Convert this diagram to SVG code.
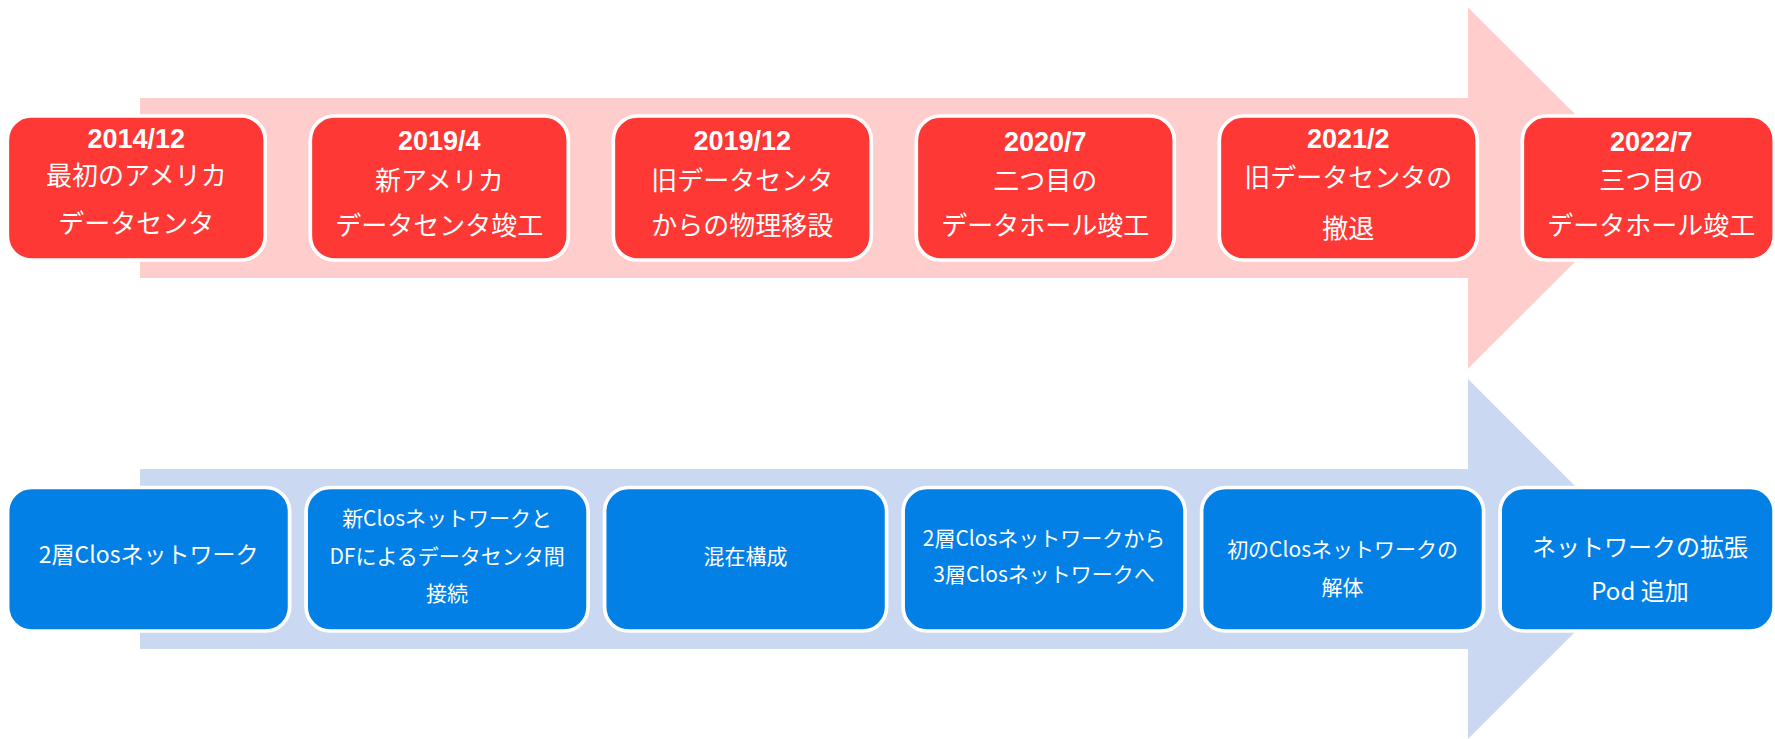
<svg xmlns="http://www.w3.org/2000/svg" width="1775" height="739" viewBox="0 0 1775 739">
<style>
.bg{fill:#fff}
.arrTop{fill:#FFCDCC}
.arrBot{fill:#CBD8F2}
.red{fill:#FE3834;stroke:#fff;stroke-width:3.7}
.blue{fill:#0280E6;stroke:#fff;stroke-width:3.7}
.yr{font-family:"Liberation Sans",Arial,sans-serif;font-weight:bold;font-size:27px;fill:#fff;text-anchor:middle}
.jp{font-family:"Noto Sans CJK JP","Noto Sans",sans-serif;font-size:26px;fill:#fff;text-anchor:middle}
.jb{font-family:"Noto Sans CJK JP","Noto Sans",sans-serif;font-size:21px;fill:#fff;text-anchor:middle}
.jl{font-family:"Noto Sans CJK JP","Noto Sans",sans-serif;font-size:23px;fill:#fff;text-anchor:middle}
</style>
<rect class="bg" x="0" y="0" width="1775" height="739"/>
<g id="connectors">
<path class="arrTop" d="M140,98 H1468 V7.5 L1649,188 L1468,368.5 V278 H140 Z"/>
<path class="arrBot" d="M140,469 H1468 V379 L1648,559 L1468,739 V649 H140 Z"/>
</g>
<g id="t1"><rect class="red" x="7.3" y="116" width="258" height="144" rx="24"/>
<text class="yr" x="136.3" y="148">2014/12</text>
<text class="jp" x="136.3" y="184.5">最初のアメリカ</text>
<text class="jp" x="136.3" y="233">データセンタ</text></g>
<g id="t2"><rect class="red" x="310.3" y="116" width="258" height="144" rx="24"/>
<text class="yr" x="439.3" y="150">2019/4</text>
<text class="jp" x="439.3" y="189.5">新アメリカ</text>
<text class="jp" x="439.3" y="234.5">データセンタ竣工</text></g>
<g id="t3"><rect class="red" x="613.3" y="116" width="258" height="144" rx="24"/>
<text class="yr" x="742.3" y="150">2019/12</text>
<text class="jp" x="742.3" y="189.5">旧データセンタ</text>
<text class="jp" x="742.3" y="234.5">からの物理移設</text></g>
<g id="t4"><rect class="red" x="916.3" y="116" width="258" height="144" rx="24"/>
<text class="yr" x="1045.3" y="150.5">2020/7</text>
<text class="jp" x="1045.3" y="189.5">二つ目の</text>
<text class="jp" x="1045.3" y="234.5">データホール竣工</text></g>
<g id="t5"><rect class="red" x="1219.3" y="116" width="258" height="144" rx="24"/>
<text class="yr" x="1348.3" y="148">2021/2</text>
<text class="jp" x="1348.3" y="187">旧データセンタの</text>
<text class="jp" x="1348.3" y="238">撤退</text></g>
<g id="t6"><rect class="red" x="1522.3" y="116" width="252" height="144" rx="24"/>
<text class="yr" x="1651.3" y="151">2022/7</text>
<text class="jp" x="1651.3" y="189.5">三つ目の</text>
<text class="jp" x="1651.3" y="234.5">データホール竣工</text></g>
<g id="b1"><rect class="blue" x="7.6" y="487.5" width="282" height="143.5" rx="24"/>
<text class="jl" x="148.6" y="563">2層Closネットワーク</text></g>
<g id="b2"><rect class="blue" x="306.1" y="487.5" width="282" height="143.5" rx="24"/>
<text class="jb" x="447.1" y="525.5">新Closネットワークと</text>
<text class="jb" x="447.1" y="563.5">DFによるデータセンタ間</text>
<text class="jb" x="447.1" y="601">接続</text></g>
<g id="b3"><rect class="blue" x="604.6" y="487.5" width="282" height="143.5" rx="24"/>
<text class="jb" x="745.6" y="563.5">混在構成</text></g>
<g id="b4"><rect class="blue" x="903.1" y="487.5" width="282" height="143.5" rx="24"/>
<text class="jb" x="1044.1" y="545.5">2層Closネットワークから</text>
<text class="jb" x="1044.1" y="582">3層Closネットワークへ</text></g>
<g id="b5"><rect class="blue" x="1201.6" y="487.5" width="282" height="143.5" rx="24"/>
<text class="jb" x="1342.6" y="556.5">初のClosネットワークの</text>
<text class="jb" x="1342.6" y="595">解体</text></g>
<g id="b6"><rect class="blue" x="1500.1" y="487.5" width="274" height="143.5" rx="24"/>
<text class="jp" x="1640" y="556" style="font-size:24px">ネットワークの拡張</text>
<text class="jp" x="1640" y="600" style="font-size:24px">Pod 追加</text></g>
</svg>
